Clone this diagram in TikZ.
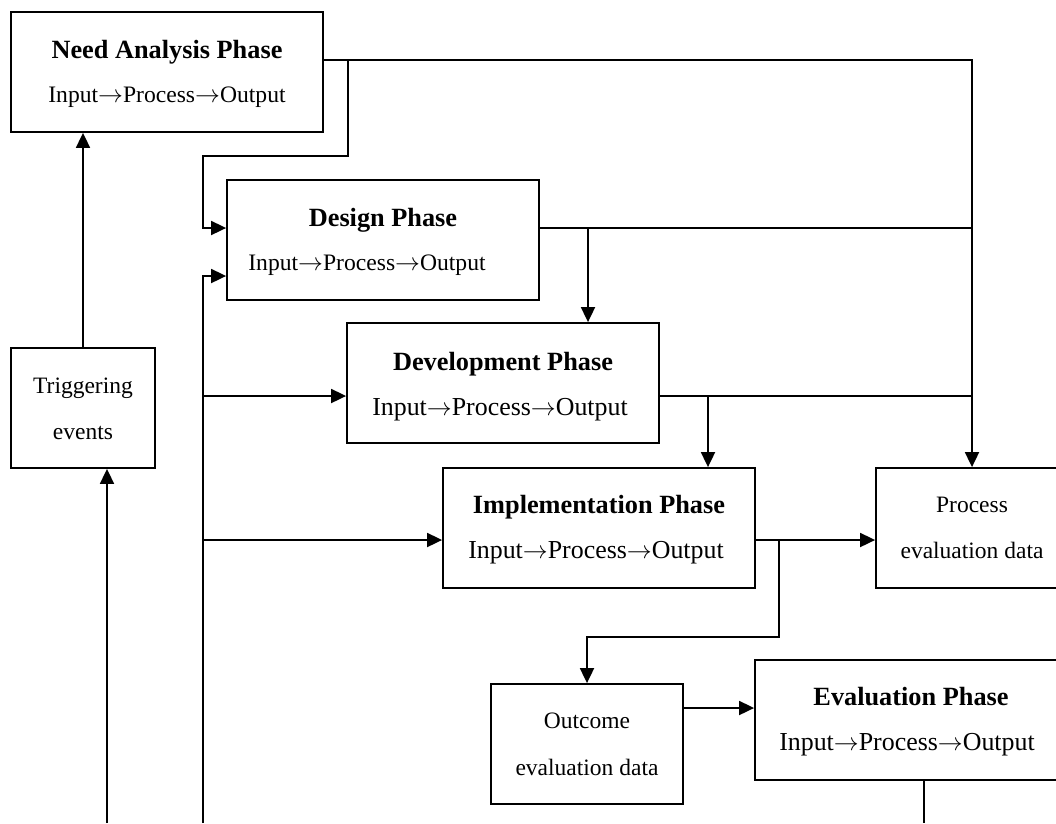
\documentclass[tikz,border=0pt]{standalone}
\usepackage{fontspec}
\setmainfont{Liberation Serif}
\usetikzlibrary{arrows.meta}

% phase flow line: input, process, output joined by arrows
\newcommand{\ipo}{Input$\rightarrow$Process$\rightarrow$Output}

\tikzset{
  box/.style={draw, line width=1.8pt, rectangle, inner sep=0pt, fill=white,
              minimum width=312pt, minimum height=120pt},
  narrowbox/.style={box, minimum width=192pt},
  trigbox/.style={box, minimum width=144pt},
  wire/.style={line width=1.8pt},
  arr/.style={wire, -{Triangle[length=15pt,width=14pt]}},
  txt/.style={anchor=base, inner sep=0pt},
  title/.style={txt, font=\fontsize{26.3}{30}\selectfont\bfseries},
  subbig/.style={txt, font=\fontsize{25.9}{30}\selectfont},
  subsmall/.style={txt, font=\fontsize{23.6}{28}\selectfont},
  plain/.style={txt, font=\fontsize{23.5}{28}\selectfont},
}

\begin{document}
\begin{tikzpicture}[x=1pt, y=-1pt]
\useasboundingbox (0,0) rectangle (1056,823);
\clip (0,0) rectangle (1056,823);

% boxes
\node[box]        (need)   at (167,72)  {};
\node[box]        (design) at (383,240) {};
\node[box]        (dev)    at (503,383) {};
\node[box]        (impl)   at (599,528) {};
\node[narrowbox]  (proc)   at (972,528) {};
\node[narrowbox]  (outc)   at (587,744) {};
\node[box]        (eval)   at (911,720) {};
\node[trigbox]    (trig)   at (83,408)  {};

% box texts
\node[title]    (needT)   at (167,58)  {Need Analysis Phase};
\node[subsmall] (needS)   at (167,102) {\ipo};
\node[title]    (designT) at (383,226) {Design Phase};
\node[subsmall] (designS) at (367,270) {\ipo};
\node[title]    (devT)    at (503,370) {Development Phase};
\node[subbig]   (devS)    at (500,415) {\ipo};
\node[title]    (implT)   at (599,513) {Implementation Phase};
\node[subbig]   (implS)   at (596,558) {\ipo};
\node[title]    (evalT)   at (911,705) {Evaluation Phase};
\node[subbig]   (evalS)   at (907,750) {\ipo};
\node[plain]    (procA)   at (972,512) {Process};
\node[plain]    (procB)   at (972,558) {evaluation data};
\node[plain]    (outcA)   at (587,728) {Outcome};
\node[plain]    (outcB)   at (587,775) {evaluation data};
\node[plain]    (trigA)   at (83,393)  {Triggering};
\node[plain]    (trigB)   at (83,439)  {events};

% free ends at the lower edge and bus corners
\coordinate (trigIn)   at (107,823);
\coordinate (spineBot) at (203,823);
\coordinate (evalOut)  at (924,823);
\coordinate (busTop)   at (972,60);

% triggering events feed the need analysis
\draw[arr] (trig.north) -- (trig.north |- need.south);
\draw[arr] (trigIn) -- (trigIn |- trig.south);

% need analysis output bus down to process evaluation data
\draw[arr] (need.east |- busTop) -- (busTop) -- (proc.north);
\draw[arr] (348,60) -- (348,156) -- (203,156) -- (203,228) -- (design.west |- 0,228);

% left feedback spine
\draw[arr] (spineBot) -- (203,276) -- (design.west |- 0,276);
\draw[arr] (203,396) -- (dev.west |- 0,396);
\draw[arr] (203,540) -- (impl.west |- 0,540);

% design outputs
\draw[wire] (design.east |- 0,228) -- (972,228);
\draw[arr] (588,228) -- (588,0 |- dev.north);

% development outputs
\draw[wire] (dev.east |- 0,396) -- (972,396);
\draw[arr] (708,396) -- (708,0 |- impl.north);

% implementation outputs
\draw[arr] (impl.east |- 0,540) -- (proc.west |- 0,540);
\draw[arr] (779,540) -- (779,637) -- (587,637) -- (outc.north);

% outcome data into evaluation
\draw[arr] (outc.east |- 0,708) -- (eval.west |- 0,708);
\draw[wire] (evalOut |- eval.south) -- (evalOut);
\end{tikzpicture}
\end{document}
